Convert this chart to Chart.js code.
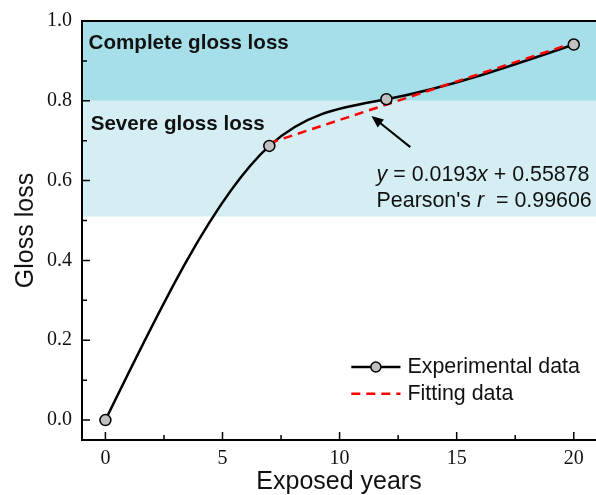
<!DOCTYPE html>
<html>
<head>
<meta charset="utf-8">
<script src="https://cdn.jsdelivr.net/npm/chart.js@4/dist/chart.umd.min.js"></script>
<style>
  html, body { margin: 0; padding: 0; background: #fff; }
  #wrap { width: 596px; height: 495px; }
</style>
</head>
<body>
<div id="wrap"><canvas id="glossChart" width="596" height="495"></canvas></div>
<script>
// measured data
const years = [0, 7, 12, 20];
const glossLoss = [0, 0.687, 0.804, 0.941];

// linear fit, read at both ends of the dashed line
const fitYears = [7, 20];
const fitValues = [0.694, 0.945];

// shaded zones
const zoneNames = ['Complete gloss loss', 'Severe gloss loss'];
const zoneLow = [0.8, 0.51];
const zoneHigh = [1.0, 0.8];
const zoneColors = ['#a6dfea', '#d4eef3'];

// ticks
const xTicks = [0, 5, 10, 15, 20];
const yTicks = [0.0, 0.2, 0.4, 0.6, 0.8, 1.0];

const SERIF = '"Liberation Serif", "Times New Roman", serif';
const SANS = '"Liberation Sans", Arial, sans-serif';

function pts(xs, ys) {
  return xs.map((x, i) => ({ x: x, y: ys[i] }));
}

// natural cubic spline through the measured points (like the Origin spline)
const splinePlugin = {
  id: 'naturalSpline',
  beforeDatasetDraw(chart, args) {
    const ds = chart.data.datasets[args.index];
    if (!ds.naturalSpline) return;
    const meta = args.meta;
    const p = meta.data;
    const n = p.length;
    if (n < 3) return;
    const h = [], d = [];
    for (let i = 0; i < n - 1; i++) {
      h.push(p[i + 1].x - p[i].x);
      d.push((p[i + 1].y - p[i].y) / h[i]);
    }
    // solve for second derivatives, M0 = Mn = 0
    const M = new Array(n).fill(0);
    const a = [], b = [], c = [], r = [];
    for (let i = 1; i < n - 1; i++) {
      a.push(h[i - 1]); b.push(2 * (h[i - 1] + h[i])); c.push(h[i]);
      r.push(6 * (d[i] - d[i - 1]));
    }
    const m = b.length;
    for (let i = 1; i < m; i++) {
      const w = a[i] / b[i - 1];
      b[i] -= w * c[i - 1];
      r[i] -= w * r[i - 1];
    }
    const sol = new Array(m);
    sol[m - 1] = r[m - 1] / b[m - 1];
    for (let i = m - 2; i >= 0; i--) sol[i] = (r[i] - c[i] * sol[i + 1]) / b[i];
    for (let i = 0; i < m; i++) M[i + 1] = sol[i];
    const slope = [];
    for (let i = 0; i < n - 1; i++) slope.push(d[i] - h[i] * (2 * M[i] + M[i + 1]) / 6);
    slope.push(d[n - 2] + h[n - 2] * (M[n - 2] + 2 * M[n - 1]) / 6);
    for (let i = 0; i < n; i++) {
      const hp = i > 0 ? h[i - 1] : 0;
      const hn = i < n - 1 ? h[i] : 0;
      p[i].cp1x = p[i].x - hp / 3;
      p[i].cp1y = p[i].y - slope[i] * hp / 3;
      p[i].cp2x = p[i].x + hn / 3;
      p[i].cp2y = p[i].y + slope[i] * hn / 3;
    }
    meta.dataset._pointsUpdated = true;
  }
};

const decorPlugin = {
  id: 'decor',
  beforeDatasetsDraw(chart) {
    const { ctx, chartArea: ca, scales: { x, y } } = chart;
    ctx.save();
    zoneNames.forEach((name, i) => {
      const top = y.getPixelForValue(zoneHigh[i]);
      const bot = y.getPixelForValue(zoneLow[i]);
      ctx.fillStyle = zoneColors[i];
      ctx.fillRect(ca.left, top, ca.right - ca.left, bot - top);
    });
    ctx.fillStyle = '#111';
    ctx.font = 'bold 20.6px ' + SANS;
    ctx.textBaseline = 'middle';
    ctx.textAlign = 'left';
    ctx.fillText(zoneNames[0], x.getPixelForValue(-0.72), y.getPixelForValue(0.945));
    ctx.fillText(zoneNames[1], x.getPixelForValue(-0.63), y.getPixelForValue(0.74));
    ctx.restore();
  },
  afterDraw(chart) {
    const { ctx, chartArea: ca, scales: { x, y } } = chart;
    ctx.save();
    ctx.strokeStyle = '#000';
    ctx.lineWidth = 2;
    // frame: left, bottom, top
    ctx.beginPath();
    ctx.moveTo(ca.left, ca.top); ctx.lineTo(ca.left, ca.bottom);
    ctx.moveTo(ca.left - 1, ca.bottom); ctx.lineTo(ca.right, ca.bottom);
    ctx.moveTo(ca.left - 1, ca.top); ctx.lineTo(ca.right, ca.top);
    ctx.stroke();
    // inward ticks
    ctx.lineWidth = 1.5;
    ctx.beginPath();
    xTicks.forEach(v => {
      const px = x.getPixelForValue(v);
      ctx.moveTo(px, ca.bottom); ctx.lineTo(px, ca.bottom - 8);
      const mx = x.getPixelForValue(v + 2.5);
      if (mx < ca.right) { ctx.moveTo(mx, ca.bottom); ctx.lineTo(mx, ca.bottom - 5); }
    });
    yTicks.forEach(v => {
      const py = y.getPixelForValue(v);
      ctx.moveTo(ca.left, py); ctx.lineTo(ca.left + 8, py);
      if (v < 1) {
        const my = y.getPixelForValue(v + 0.1);
        ctx.moveTo(ca.left, my); ctx.lineTo(ca.left + 5, my);
      }
    });
    ctx.stroke();

    // arrow pointing at the fit line
    const ax0 = x.getPixelForValue(13.02), ay0 = y.getPixelForValue(0.684);
    const ax1 = x.getPixelForValue(11.36), ay1 = y.getPixelForValue(0.762);
    const ang = Math.atan2(ay1 - ay0, ax1 - ax0);
    ctx.lineWidth = 2;
    ctx.beginPath();
    ctx.moveTo(ax0, ay0);
    ctx.lineTo(ax1 - 8 * Math.cos(ang), ay1 - 8 * Math.sin(ang));
    ctx.stroke();
    ctx.fillStyle = '#000';
    ctx.beginPath();
    ctx.moveTo(ax1, ay1);
    ctx.lineTo(ax1 - 12 * Math.cos(ang) + 5 * Math.sin(ang), ay1 - 12 * Math.sin(ang) - 5 * Math.cos(ang));
    ctx.lineTo(ax1 - 12 * Math.cos(ang) - 5 * Math.sin(ang), ay1 - 12 * Math.sin(ang) + 5 * Math.cos(ang));
    ctx.closePath();
    ctx.fill();

    // equation text
    const reg = '21.4px ' + SANS, ita = 'italic 21.4px ' + SANS;
    function runs(parts, px, py) {
      let cx = px;
      parts.forEach(([t, f]) => {
        ctx.font = f;
        ctx.fillText(t, cx, py);
        cx += ctx.measureText(t).width;
      });
    }
    ctx.fillStyle = '#111';
    ctx.textBaseline = 'middle';
    ctx.textAlign = 'left';
    const ex = x.getPixelForValue(11.58);
    runs([['y', ita], [' = 0.0193', reg], ['x', ita], [' + 0.55878', reg]], ex, y.getPixelForValue(0.614));
    runs([["Pearson's ", reg], ['r', ita], ['  = 0.99606', reg]], ex, y.getPixelForValue(0.549));

    // legend
    const lx0 = x.getPixelForValue(10.5), lx1 = x.getPixelForValue(12.6);
    const ly1 = y.getPixelForValue(0.133), ly2 = y.getPixelForValue(0.066);
    ctx.strokeStyle = '#000';
    ctx.lineWidth = 2.5;
    ctx.setLineDash([]);
    ctx.beginPath(); ctx.moveTo(lx0, ly1); ctx.lineTo(lx1, ly1); ctx.stroke();
    ctx.beginPath();
    ctx.arc((lx0 + lx1) / 2, ly1, 5, 0, Math.PI * 2);
    ctx.fillStyle = '#c0c0c0'; ctx.fill();
    ctx.lineWidth = 1.5; ctx.stroke();
    ctx.strokeStyle = '#ff0000';
    ctx.lineWidth = 2.5;
    ctx.setLineDash([9, 6]);
    ctx.beginPath(); ctx.moveTo(lx0, ly2); ctx.lineTo(lx1, ly2); ctx.stroke();
    ctx.setLineDash([]);
    ctx.fillStyle = '#111';
    ctx.font = reg;
    ctx.fillText('Experimental data', lx1 + 7, ly1);
    ctx.fillText('Fitting data', lx1 + 7, ly2);
    ctx.restore();
  }
};

new Chart(document.getElementById('glossChart'), {
  type: 'line',
  data: {
    datasets: [
      {
        label: 'Experimental curve',
        data: pts(years, glossLoss),
        naturalSpline: true,
        borderColor: '#000',
        borderWidth: 2.5,
        tension: 0.4,
        pointRadius: 0,
        order: 3
      },
      {
        label: 'Fitting data',
        data: pts(fitYears, fitValues),
        borderColor: '#ff0000',
        borderWidth: 2.5,
        borderDash: [9, 6],
        pointRadius: 0,
        order: 2
      },
      {
        label: 'Experimental data',
        data: pts(years, glossLoss),
        showLine: false,
        pointRadius: 5.5,
        pointBackgroundColor: '#c0c0c0',
        pointBorderColor: '#000',
        pointBorderWidth: 1.5,
        order: 1
      }
    ]
  },
  options: {
    responsive: false,
    animation: false,
    layout: { autoPadding: false, padding: { top: 21, right: 0, left: 0, bottom: 0 } },
    plugins: { legend: { display: false }, tooltip: { enabled: false } },
    elements: { point: { hoverRadius: 5.5 } },
    clip: false,
    scales: {
      x: {
        type: 'linear',
        min: -1,
        max: 20.95,
        afterBuildTicks: s => { s.ticks = xTicks.map(v => ({ value: v })); },
        afterFit: s => { s.height = 55; s.paddingLeft = 0; s.paddingRight = 0; },
        grid: { display: false, drawTicks: false },
        border: { display: false },
        ticks: {
          color: '#111',
          padding: 7,
          font: { family: SERIF, size: 20 },
          callback: v => String(v)
        },
        title: {
          display: true,
          text: 'Exposed years',
          color: '#111',
          font: { family: SANS, size: 25, lineHeight: 1 },
          padding: 0
        }
      },
      y: {
        min: -0.05,
        max: 1.0,
        afterBuildTicks: s => { s.ticks = yTicks.map(v => ({ value: v })); },
        afterFit: s => { s.width = 82; s.paddingTop = 0; s.paddingBottom = 0; },
        grid: { display: false, drawTicks: false },
        border: { display: false },
        ticks: {
          color: '#111',
          padding: 10,
          font: { family: SERIF, size: 20 },
          callback: v => v.toFixed(1)
        },
        title: {
          display: true,
          text: 'Gloss loss',
          color: '#111',
          font: { family: SANS, size: 25, lineHeight: 1 },
          padding: { top: 14, bottom: 0 }
        }
      }
    }
  },
  plugins: [splinePlugin, decorPlugin]
});
</script>
</body>
</html>
